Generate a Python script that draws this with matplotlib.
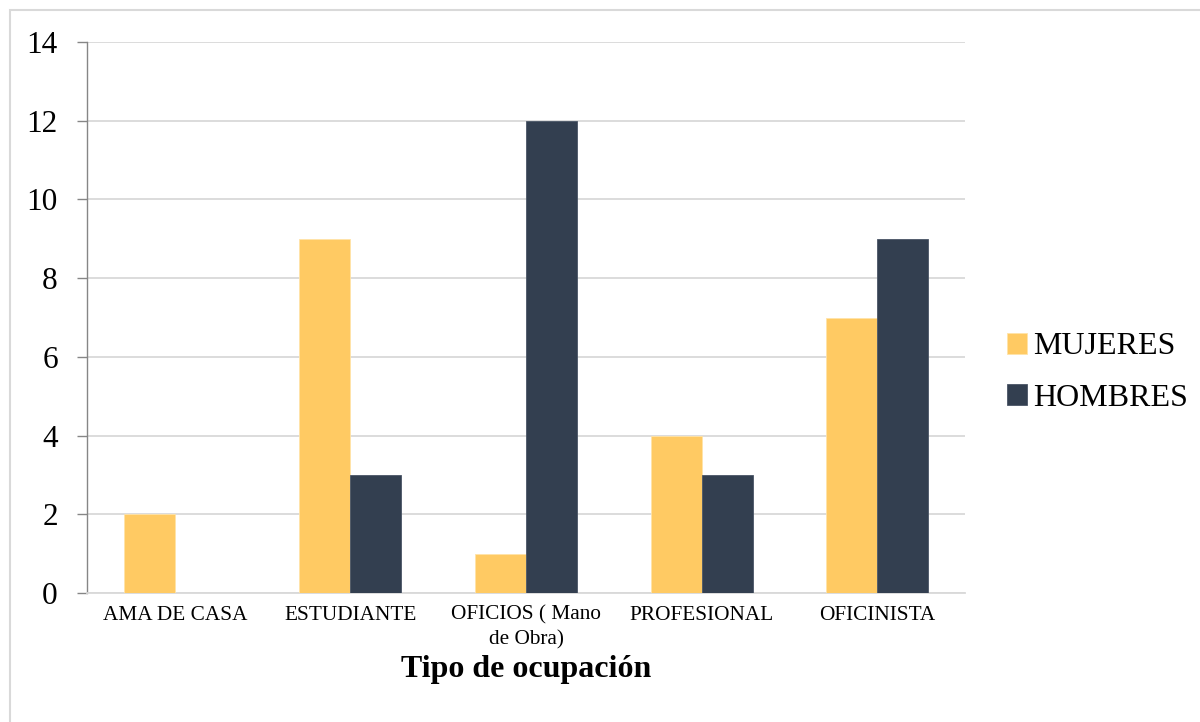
import matplotlib
matplotlib.use("Agg")
import matplotlib.pyplot as plt
import numpy as np
from matplotlib.patches import Rectangle

categories = ["AMA DE CASA", "ESTUDIANTE", "OFICIOS ( Mano\nde Obra)", "PROFESIONAL", "OFICINISTA"]
mujeres = [2, 9, 1, 4, 7]
hombres = [0, 3, 12, 3, 9]
series_names = ["MUJERES", "HOMBRES"]
colors = ["#FFCA63", "#333F50"]
y_ticks = [0, 2, 4, 6, 8, 10, 12, 14]
x_label = "Tipo de ocupación"

plt.rcParams["font.family"] = ["Liberation Serif", "DejaVu Serif"]

fig = plt.figure(figsize=(12, 7.22), dpi=100)
fig.patch.set_facecolor("white")

# light frame around the chart area
fig.patches.append(Rectangle((10 / 1200, -0.1), 1.2, (722 - 10) / 722 + 0.1,
                             transform=fig.transFigure, fill=False,
                             edgecolor="#D9D9D9", linewidth=1.5))

ax = fig.add_axes([87 / 1200, 129 / 722, (965 - 87) / 1200, (593 - 42) / 722])

x = np.arange(len(categories))
w = 0.29
ax.bar(x - w / 2, mujeres, w, color=colors[0], label=series_names[0],
       edgecolor="#FFE3A8", linewidth=0.6, zorder=3)
ax.bar(x + w / 2, hombres, w, color=colors[1], label=series_names[1],
       edgecolor="#4A5566", linewidth=0.6, zorder=3)

ax.set_xlim(-0.5, len(categories) - 0.5)
ax.set_ylim(0, 14)
ax.set_yticks(y_ticks)
ax.set_yticklabels([str(v) for v in y_ticks], fontsize=22.5)
ax.set_xticks(x)
ax.set_xticklabels(categories, fontsize=15.3, linespacing=1.35)

ax.yaxis.grid(True, color="#D9D9D9", linewidth=1.3, zorder=0)
ax.set_axisbelow(True)
ax.tick_params(axis="y", length=7, width=1, color="#868686", pad=14)
ax.tick_params(axis="x", length=0, pad=9)

for side in ["top", "right"]:
    ax.spines[side].set_visible(False)
ax.spines["left"].set_color("#868686")
ax.spines["left"].set_linewidth(1)
ax.spines["bottom"].set_color("#D9D9D9")
ax.spines["bottom"].set_linewidth(1.3)

ax.set_xlabel(x_label, fontsize=23, fontweight="bold", labelpad=4)

leg = ax.legend(loc="center left", bbox_to_anchor=(1.033, 0.4),
                frameon=False, fontsize=23, handlelength=0.62,
                handleheight=0.62, handletextpad=0.2, labelspacing=0.7,
                borderaxespad=0)

fig.savefig("out.png", dpi=100, facecolor="white")
